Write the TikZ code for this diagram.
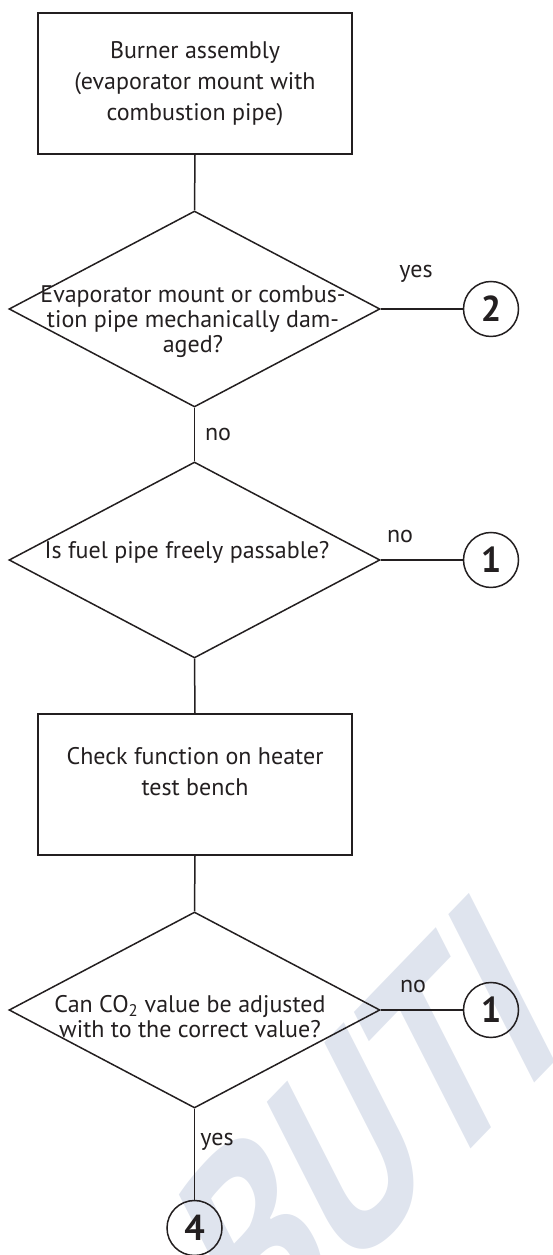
\documentclass[tikz,border=0pt]{standalone}
\usepackage{fontspec}
\setmainfont{PT Sans}
\usetikzlibrary{shapes.geometric}
\definecolor{wm}{RGB}{223,228,238}
\definecolor{ln}{RGB}{35,31,32}
\tikzset{
 line/.style={draw=ln, line width=1.5pt},
 procbox/.style={draw=ln, line width=1.6pt, minimum width=314pt, minimum height=141pt, inner sep=0, align=center, font=\fontsize{24}{31}\selectfont, text=ln},
 decision/.style={diamond, draw=ln, line width=1.5pt, minimum width=371pt, minimum height=196pt, inner sep=0},
 connector/.style={circle, draw=ln, line width=1.5pt, minimum size=55pt, inner sep=0, font=\fontsize{36}{36}\selectfont\bfseries, text=ln},
 txt/.style={align=center, font=\fontsize{24}{31}\selectfont, text=ln, inner sep=0},
 dtxt/.style={align=center, font=\fontsize{24}{25}\selectfont, text=ln, inner sep=0},
 lbl/.style={font=\fontsize{24}{26}\selectfont, text=ln, inner sep=0},
 wmark/.style={transform shape, text=wm, font=\fontsize{270}{270}\selectfont\bfseries, inner sep=0},
}
\begin{document}
\begin{tikzpicture}[x=1pt,y=1pt]
\useasboundingbox (0,0) rectangle (552,1255);
\begin{scope}
\clip (0,0) rectangle (552,1255);
\begin{scope}[cm={0.556,0.575,-0.454,0.891,(368,128)}]
\node[wmark] (wmk) at (0,0) {BUTI};
\end{scope}
\end{scope}

\node[procbox] (b1) at (195,1171.5) {Burner assembly\\(evaporator mount with\\combustion pipe)};
\node[decision] (d1) at (194.5,946) {};
\node[dtxt] (t1) at (193,933) {Evaporator mount or combus-\\tion pipe mechanically dam-\\aged?};
\node[decision] (d2) at (194.5,695) {};
\node[dtxt] (t2) at (187,703) {Is fuel pipe freely passable?};
\node[procbox] (b2) at (195,470.5) {};
\node[txt] (t3) at (195,483) {Check function on heater\\test bench};
\node[decision] (d3) at (194.5,245) {};
\node[dtxt] (t4) at (190,238) {Can CO\textsubscript{2} value be adjusted\\with to the correct value?};

\node[connector] (c2) at (491,946) {2};
\node[connector] (c1a) at (491,695) {1};
\node[connector] (c1b) at (491,245) {1};
\node[connector] (c4) at (194.5,27) {4};

\node[lbl] (l1) at (416,981) {yes};
\node[lbl] (l2) at (218,820) {no};
\node[lbl] (l3) at (400,718) {no};
\node[lbl] (l4) at (413,268) {no};
\node[lbl] (l5) at (217,113) {yes};

\draw[line] (b1.south) -- (d1.north);
\draw[line] (d1.east) -- (c2.west);
\draw[line] (d1.south) -- (d2.north);
\draw[line] (d2.east) -- (c1a.west);
\draw[line] (d2.south) -- (b2.north);
\draw[line] (b2.south) -- (d3.north);
\draw[line] (d3.east) -- (c1b.west);
\draw[line] (d3.south) -- (c4.north);
\end{tikzpicture}
\end{document}
